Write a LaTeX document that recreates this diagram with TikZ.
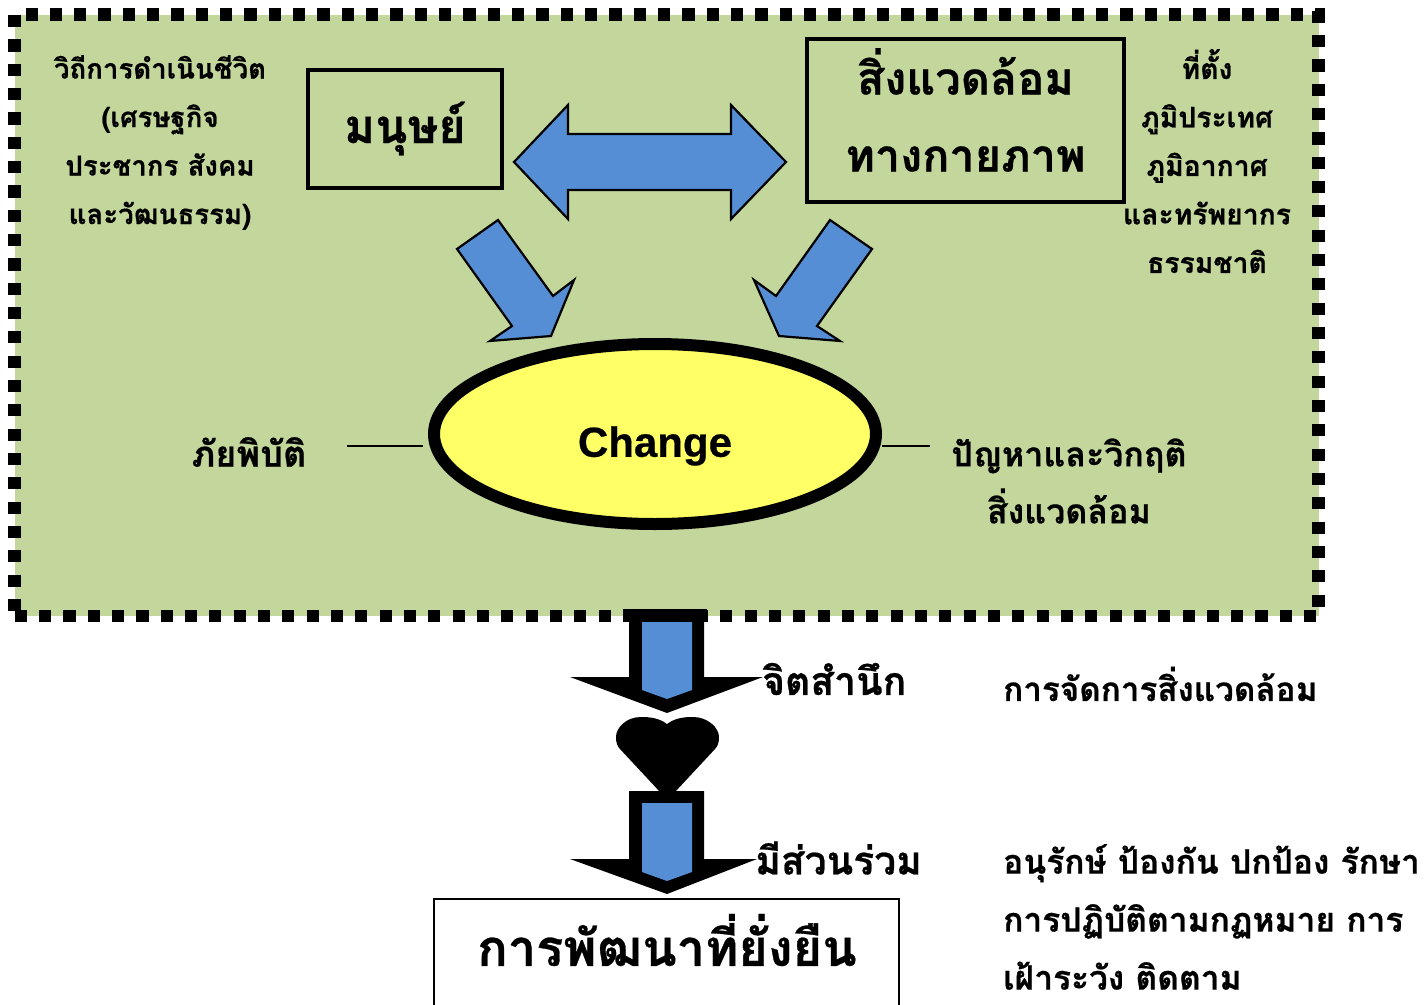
\documentclass[tikz,border=0pt]{standalone}
\usepackage{fontspec}
\newfontfamily\thaifont[Script=Thai,BoldFeatures={FakeBold=0.6}]{Loma}
\newfontfamily\latinfont[BoldFeatures={FakeBold=0.5}]{Liberation Sans}
\usetikzlibrary{shapes.geometric}
\definecolor{boxgreen}{HTML}{C3D69B}
\definecolor{arrowblue}{HTML}{558ED5}
\definecolor{ovalyellow}{HTML}{FFFF66}
\tikzset{
  side/.style={align=center,inner sep=0pt,font=\thaifont\bfseries\fontsize{27.6}{48.5}\selectfont},
  sidewide/.style={align=center,inner sep=0pt,font=\thaifont\bfseries\fontsize{28.3}{48.5}\selectfont},
  big/.style={align=center,inner sep=0pt,font=\thaifont\bfseries\fontsize{45}{77}\selectfont},
  mid/.style={align=left,inner sep=0pt,anchor=west,font=\thaifont\bfseries\fontsize{33.5}{58}\selectfont},
  note/.style={align=center,inner sep=0pt,font=\thaifont\bfseries\fontsize{34}{57}\selectfont},
  label/.style={inner sep=0pt,anchor=west,font=\thaifont\bfseries\fontsize{39}{58}\selectfont},
  bluearrow/.style={fill=arrowblue,draw=black,line width=2.2pt,line join=miter},
  thin line/.style={line width=1.5pt},
  frame/.style={line width=12.5pt,dash pattern=on 12.2pt off 12.13pt}
}
\begin{document}
\begin{tikzpicture}[x=1pt,y=-1pt]
\useasboundingbox (0,0) rectangle (1427,1004);

\def \heavy{12pt}

% the large dashed frame
\fill[boxgreen] (15,15) rectangle (1319,615.7);
\draw[frame,dash phase=13.33pt] (14.5,14.5) -- (1325,14.5);
\draw[frame] (14.5,15) -- (14.5,612);
\draw[frame] (1318.5,10.65) -- (1318.5,610);
\draw[frame] (14.65,616) -- (1316,616);

% boxes
\node[draw,line width=4pt,minimum width=194pt,minimum height=118pt,big,font=\thaifont\bfseries\fontsize{47}{77}\selectfont] (human) at (405,128.5) {มนุษย์};
\draw[line width=4pt] (806.5,39) rectangle (1124,202);
\node[big] (env) at (965.5,110) {สิ่งแวดล้อม\\ทางกายภาพ};

% side texts
\node[side] (lifestyle) at (160,142.5) {วิถีการดำเนินชีวิต\\(เศรษฐกิจ\\ประชากร สังคม\\และวัฒนธรรม)};
\node[sidewide] (location) at (1207,161) {ที่ตั้ง\\ภูมิประเทศ\\ภูมิอากาศ\\และทรัพยากร\\ธรรมชาติ};

% blue arrows
\draw[bluearrow] (514,162) -- (568,105) -- (568,134) -- (731,134) -- (731,105) -- (786,162) -- (731,219) -- (731,190) -- (568,190) -- (568,219) -- cycle;
\draw[bluearrow] (498,220) -- (553,296) -- (574,280) -- (551,336) -- (490,341) -- (512,326) -- (457,249) -- cycle;
\draw[bluearrow] (830,220) -- (776,296) -- (754,280) -- (779,336) -- (840,341) -- (817,326) -- (872,249) -- cycle;

% the oval
\node[ellipse,draw,fill=ovalyellow,line width=\heavy,minimum width=442pt,minimum height=180pt,inner sep=0pt] (change) at (655,434) {};
\node[inner sep=0pt,font=\latinfont\bfseries\fontsize{42}{50}\selectfont] (changetext) at (655,446) {Change};

\node[inner sep=0pt,font=\thaifont\bfseries\fontsize{36}{58}\selectfont] (disaster) at (249,452) {ภัยพิบัติ};
\node[note] (crisis) at (1069,481) {ปัญหาและวิกฤติ\\สิ่งแวดล้อม};

\coordinate (disasterend) at (347,446);
\coordinate (ovalleft) at (423,446);
\coordinate (ovalright) at (882,446);
\coordinate (crisisend) at (930,446);
\draw[thin line] (disasterend) -- (ovalleft);
\draw[thin line] (ovalright) -- (crisisend);

% black arrows and heart
\fill (623,609) rectangle (707,622);
\fill (629,622) -- (704,622) -- (704,677) -- (763,677) -- (667,713) -- (570,677) -- (629,677) -- cycle;
\fill[arrowblue] (642,622) -- (692,622) -- (692,690) -- (667,699) -- (642,690) -- cycle;

\fill (667,724) .. controls (659,718) and (650,717) .. (641,717) .. controls (626,717) and (616,728) .. (616,737) .. controls (616,742) and (617,746) .. (620,749) -- (660,792) -- (675,792) -- (715,749) .. controls (718,746) and (719,742) .. (719,737) .. controls (719,728) and (708,717) .. (693,717) .. controls (684,717) and (675,718) .. cycle;

\fill (629,791) -- (704,791) -- (704,859) -- (757,859) -- (667,894) -- (570,859) -- (629,859) -- cycle;
\fill[arrowblue] (642,803) -- (692,803) -- (692,872) -- (667,881) -- (642,872) -- cycle;

% result box
\draw[line width=2pt] (434,1030) -- (434,899) -- (899,899) -- (899,1030);
\node[inner sep=0pt,font=\thaifont\bfseries\fontsize{50.5}{60}\selectfont] (result) at (667,940) {การพัฒนาที่ยั่งยืน};

% lower texts
\node[label] (aware) at (762,679) {จิตสำนึก};
\node[label] (join) at (755,858) {มีส่วนร่วม};
\node[mid,font=\thaifont\bfseries\fontsize{33.2}{58}\selectfont] (manage) at (1003,684) {การจัดการสิ่งแวดล้อม};
\node[mid] (protect) at (1003,917) {อนุรักษ์ ป้องกัน ปกป้อง รักษา\\การปฏิบัติตามกฏหมาย การ\\เฝ้าระวัง ติดตาม};

\end{tikzpicture}
\end{document}
